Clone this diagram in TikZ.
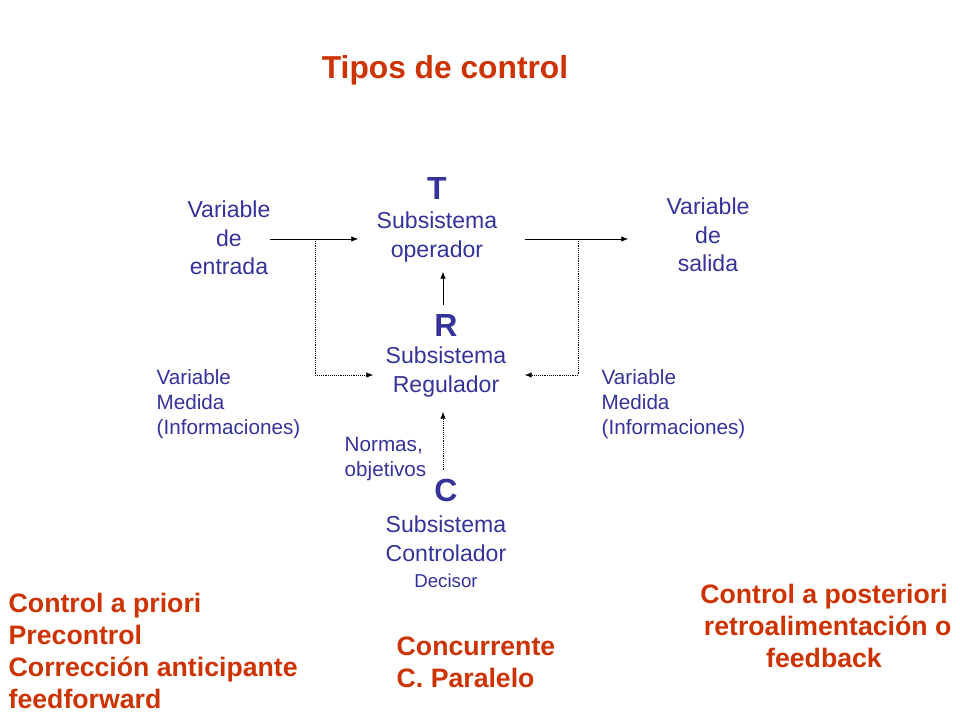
\documentclass[tikz,border=0pt]{standalone}
\usepackage{fontspec}
\setmainfont{Liberation Sans}
\usetikzlibrary{arrows.meta}
\definecolor{tred}{HTML}{CC3300}
\definecolor{tblue}{HTML}{333399}
\begin{document}
\begin{tikzpicture}[x=0.75pt,y=-0.75pt,
  big/.style={font=\fontsize{24}{26}\selectfont\bfseries,text=tblue},
  mid/.style={font=\fontsize{17.3}{21.5}\selectfont,text=tblue,align=center},
  sm/.style={font=\fontsize{15.5}{19}\selectfont,text=tblue,align=left,anchor=west},
  red/.style={font=\fontsize{20}{24}\selectfont\bfseries,text=tred},
  arr/.style={-{Latex[length=5pt,width=4pt]},thin},
  dot/.style={densely dotted,thin}]
\useasboundingbox[fill=white] (0,0) rectangle (960,720);
\node[font=\fontsize{23.8}{26}\selectfont\bfseries,text=tred] (title) at (445,70) {Tipos de control};
\node[big] (T) at (437,188) {T};
\node[mid] (op) at (437,237) {Subsistema\\operador};
\node[mid] (ent) at (229,238) {Variable\\de\\entrada};
\node[mid] (sal) at (708,235) {Variable\\de\\salida};
\node[big] (R) at (446,325) {R};
\node[mid] (reg) at (446,372) {Subsistema\\Regulador};
\node[sm] (vml) at (152,404) {Variable\\Medida\\(Informaciones)};
\node[sm] (vmr) at (597,404) {Variable\\Medida\\(Informaciones)};
\node[sm] (norm) at (340,459) {Normas,\\objetivos};
\node[big] (C) at (446,490) {C};
\node[mid] (ctl) at (446,539) {Subsistema\\Controlador};
\node[font=\fontsize{14}{15}\selectfont,text=tblue] (dec) at (446,581) {Decisor};
\node[red,align=left,anchor=west] (pri) at (4,651) {Control a priori\\Precontrol\\Corrección anticipante\\feedforward};
\node[red,align=left,anchor=west] (con) at (392,662) {Concurrente\\C. Paralelo};
\node[red,align=center] (pos) at (824,626) {Control a posteriori\\\ retroalimentación o\\feedback};
\coordinate (a1) at (270,239); \coordinate (a2) at (358,239);
\coordinate (b1) at (525,239); \coordinate (b2) at (628,239);
\coordinate (c1) at (443,305); \coordinate (c2) at (443,272);
\coordinate (dl) at (315,239); \coordinate (dlb) at (315,375); \coordinate (dle) at (373,375);
\coordinate (dr) at (578,239); \coordinate (drb) at (578,375); \coordinate (dre) at (525,375);
\coordinate (e1) at (443,470); \coordinate (e2) at (443,412);
\draw[arr] (a1) -- (a2);
\draw[arr] (b1) -- (b2);
\draw[arr] (c1) -- (c2);
\draw[dot,arr] (dl) -- (dlb) -- (dle);
\draw[dot,arr] (dr) -- (drb) -- (dre);
\draw[dot,arr] (e1) -- (e2);
\end{tikzpicture}
\end{document}
